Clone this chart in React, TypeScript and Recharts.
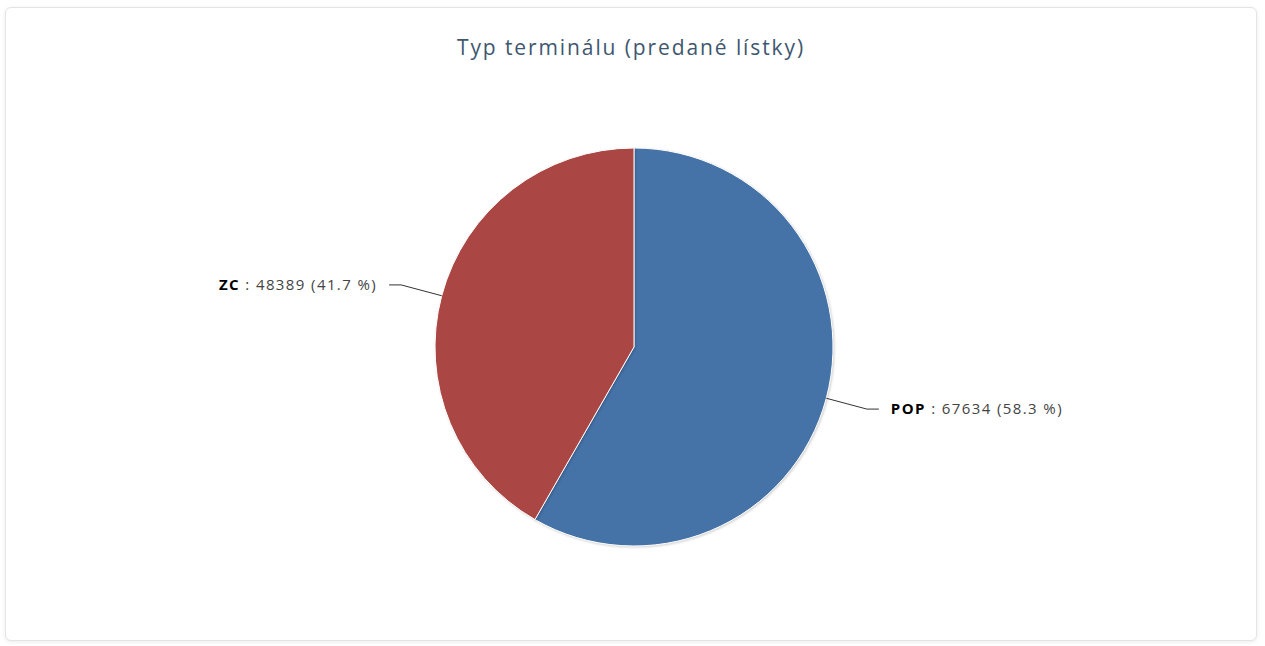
import { PieChart, Pie, Cell } from "recharts";

const terminalNames = ["POP", "ZC"];
const soldTickets = [67634, 48389];
const sliceColors = ["#4572A7", "#AA4643"];

const RADIAN = Math.PI / 180;
const FONT = "'Open Sans', 'DejaVu Sans', sans-serif";

const chartData = terminalNames.map((name, i) => ({ name, value: soldTickets[i] }));

// connector + "NAME : value (pct %)" label, Highcharts-style
function renderLabel(props: any) {
  const { cx, cy, midAngle, outerRadius, name, value, percent } = props;
  const cos = Math.cos(-midAngle * RADIAN);
  const sin = Math.sin(-midAngle * RADIAN);
  const sx = cx + outerRadius * cos;
  const sy = cy + outerRadius * sin;
  const mx = cx + (outerRadius + 42) * cos;
  const my = cy + (outerRadius + 42) * sin;
  const right = cos >= 0;
  const ex = mx + (right ? 12 : -12);
  const tx = ex + (right ? 12 : -12);
  return (
    <g>
      <path d={`M${sx},${sy}L${mx},${my}L${ex},${my}`} stroke="#333" strokeWidth={1} fill="none" />
      <text
        x={tx}
        y={my}
        dy={5}
        textAnchor={right ? "start" : "end"}
        fontFamily={FONT}
        fontSize={15}
        letterSpacing={1.4}
        fill="#444"
      >
        <tspan fontWeight="bold" fill="#000">{name}</tspan>
        <tspan>{` : ${value} (${(percent * 100).toFixed(1)} %)`}</tspan>
      </text>
    </g>
  );
}

export default function App() {
  return (
    <div
      style={{
        position: "absolute",
        left: 5,
        top: 7,
        width: 1250,
        height: 632,
        border: "1px solid #e4e4e4",
        borderRadius: 6,
        boxShadow: "0 1px 4px rgba(0,0,0,0.08)",
        background: "#fff",
      }}
    >
      <div
        style={{
          position: "absolute",
          left: 0,
          right: 0,
          top: 25,
          textAlign: "center",
          fontFamily: FONT,
          fontSize: 21,
          letterSpacing: 1.9,
          color: "#3E576F",
        }}
      >
        Typ terminálu (predané lístky)
      </div>
      <PieChart width={1250} height={632}>
        <Pie
          data={chartData}
          dataKey="value"
          nameKey="name"
          cx={623}
          cy={334}
          outerRadius={199}
          startAngle={90}
          endAngle={-270}
          stroke="#fff"
          strokeWidth={1}
          label={renderLabel}
          labelLine={false}
          isAnimationActive={false}
        >
          {chartData.map((d, i) => (
            <Cell
              key={d.name}
              fill={sliceColors[i]}
              style={{ filter: "drop-shadow(1px 1px 1px rgba(0,0,0,0.18))" }}
            />
          ))}
        </Pie>
      </PieChart>
    </div>
  );
}
